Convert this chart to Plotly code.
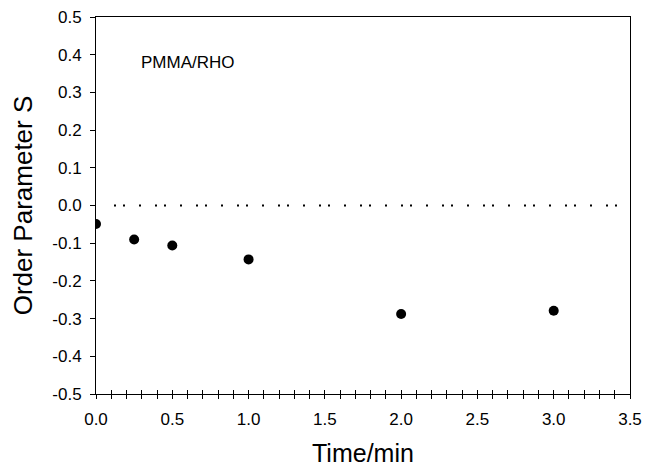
import plotly.graph_objects as go

# Data
time_min = [0.0, 0.25, 0.5, 1.0, 2.0, 3.0]
order_param = [-0.049, -0.090, -0.106, -0.143, -0.288, -0.279]

x_tick_vals = [0.0, 0.5, 1.0, 1.5, 2.0, 2.5, 3.0, 3.5]
x_tick_text = ["0.0", "0.5", "1.0", "1.5", "2.0", "2.5", "3.0", "3.5"]
y_tick_vals = [-0.5, -0.4, -0.3, -0.2, -0.1, 0.0, 0.1, 0.2, 0.3, 0.4, 0.5]
y_tick_text = ["-0.5", "-0.4", "-0.3", "-0.2", "-0.1", "0.0", "0.1", "0.2", "0.3", "0.4", "0.5"]

FONT = "Arial, 'Liberation Sans', Helvetica, sans-serif"

fig = go.Figure()
fig.add_trace(go.Scatter(
    x=time_min, y=order_param, mode="markers",
    marker=dict(color="black", size=10),
    showlegend=False, hoverinfo="x+y",
))
# invisible trace to activate overlay axis for crossing ticks
fig.add_trace(go.Scatter(x=[0, 3.5], y=[0, 0], xaxis="x2", mode="markers",
                         marker=dict(opacity=0), showlegend=False, hoverinfo="skip"))

fig.add_shape(type="line", xref="x", yref="y", x0=0.118, x1=3.5, y0=0, y1=0,
              line=dict(color="black", width=2, dash="2px,7px,2px,14px,2px,14px"))

fig.update_layout(
    width=645, height=466,
    margin=dict(l=96, r=15, t=17, b=72, autoexpand=False),
    paper_bgcolor="white", plot_bgcolor="white",
    font=dict(family=FONT, color="black", size=17),
    xaxis=dict(
        range=[0, 3.5], showgrid=False, zeroline=False, automargin=False,
        showline=True, linecolor="black", linewidth=1, mirror=True,
        tickvals=x_tick_vals, ticktext=x_tick_text,
        ticks="outside", ticklen=4, tickcolor="black", tickwidth=1,
        minor=dict(dtick=0.1, tick0=0, ticks="outside", ticklen=4, tickcolor="black", tickwidth=1),
        tickfont=dict(size=17, family=FONT, color="black"),
        ticklabelstandoff=6, ticklabeloverflow="allow",
    ),
    xaxis2=dict(
        range=[0, 3.5], overlaying="x", side="bottom", anchor="y", automargin=False,
        showgrid=False, zeroline=False, showline=False,
        tickmode="linear", tick0=0, dtick=0.1, ticks="inside", ticklen=4,
        tickcolor="black", tickwidth=1, showticklabels=False,
    ),
    yaxis=dict(
        range=[-0.5, 0.5], showgrid=False, zeroline=False, automargin=False,
        showline=True, linecolor="black", linewidth=1, mirror=True,
        tickvals=y_tick_vals, ticktext=y_tick_text,
        ticks="outside", ticklen=5, tickcolor="black", tickwidth=1,
        tickfont=dict(size=17, family=FONT, color="black"),
        ticklabelstandoff=5, ticklabeloverflow="allow",
    ),
    annotations=[
        dict(text="PMMA/RHO", x=0.285, y=0.38, xref="x", yref="y",
             xanchor="left", yanchor="middle", showarrow=False,
             font=dict(size=17, family=FONT, color="black")),
        dict(text="Time/min", x=0.5, y=-0.156, xref="paper", yref="paper",
             xanchor="center", yanchor="middle", showarrow=False,
             font=dict(size=25, family=FONT, color="black")),
        dict(text="Order Parameter S", x=-0.137, y=0.5, xref="paper", yref="paper",
             xanchor="center", yanchor="middle", showarrow=False, textangle=-90,
             font=dict(size=26, family=FONT, color="black")),
    ],
)

fig.write_html("out.html", config={"displayModeBar": False},
               post_script="document.body.style.margin='0';document.body.style.overflow='hidden';")
